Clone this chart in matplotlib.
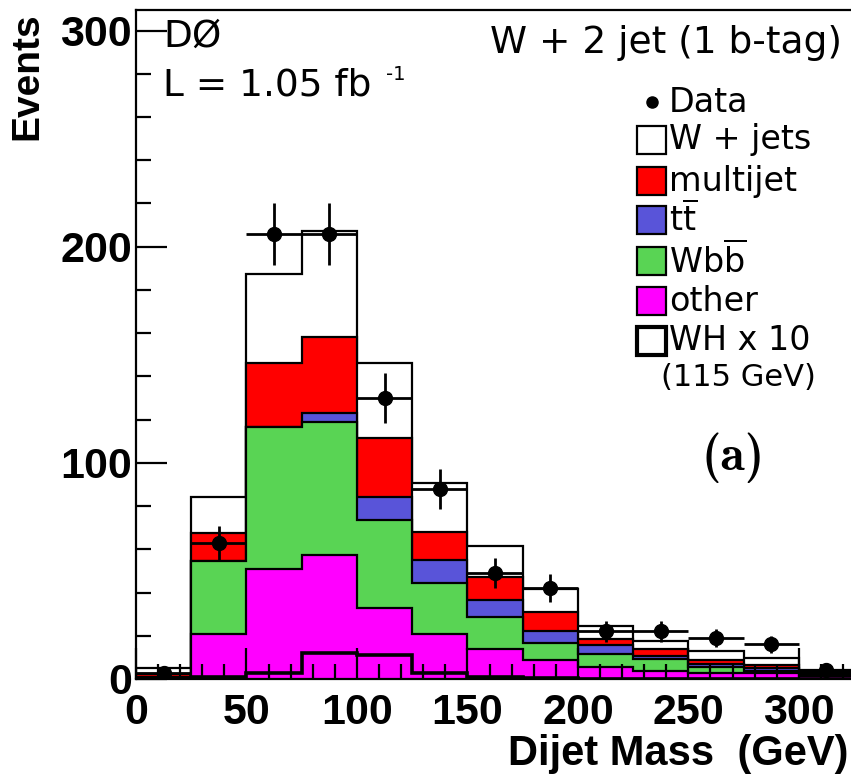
import numpy as np
import matplotlib as mpl
mpl.use('Agg')
import matplotlib.pyplot as plt
from matplotlib.patches import Rectangle
from matplotlib.lines import Line2D

#=========================================================================
# Data, 25 GeV bins from 0 to 325 GeV
#=========================================================================
edges = np.arange(0, 326, 25)
other = [0.3, 21.0, 51.0, 57.4, 32.8, 20.8, 13.9, 8.8, 5.6, 3.7, 2.8, 2.8, 1.2]
wbb = [0.5, 33.6, 65.7, 61.6, 40.8, 23.6, 14.8, 7.9, 6.0, 5.5, 2.8, 0.9, 0.7]
ttbar = [0.0, 0.0, 0.0, 4.0, 10.4, 10.6, 7.9, 5.5, 4.1, 1.4, 1.3, 1.3, 0.7]
multijet = [1.7, 13.0, 29.3, 35.3, 27.6, 13.0, 10.4, 8.8, 2.8, 3.3, 1.9, 1.5, 0.7]
wjets = [2.5, 16.4, 41.5, 49.1, 34.4, 22.8, 14.6, 10.7, 6.0, 3.7, 4.2, 3.2, 0.7]
wh_x10 = [0.4, 1.0, 3.0, 12.2, 11.2, 2.7, 0.8, 0.3, 0.1, 0.0, 0.0, 0.0, 0.0]
data = [3, 63, 206, 206, 130, 88, 49, 42, 22, 22, 19, 16, 4]

#=========================================================================
# Style
#=========================================================================
plt.rc('font', family='Liberation Sans')
plt.rc('mathtext', fontset='dejavusans')
col_red = '#FF0000'
col_blue = '#5954D9'
col_green = '#59D454'
col_mag = '#FF00FF'
txtfont = 'DejaVu Sans'

W, H = 851, 777


def fx(x):
    return x / W


def fy(y):
    return 1 - y / H


fig = plt.figure(figsize=(W / 100, H / 100), dpi=100)
ax = fig.add_axes([fx(136), fy(679), 1 - fx(136), fy(10) - fy(679)])

centers = 0.5 * (edges[:-1] + edges[1:])
c1 = np.array(other)
c2 = c1 + np.array(wbb)
c3 = c2 + np.array(ttbar)
c4 = c3 + np.array(multijet)
c5 = c4 + np.array(wjets)

for top, col in [(c5, 'white'), (c4, col_red), (c3, col_blue),
                 (c2, col_green), (c1, col_mag)]:
    ax.stairs(top, edges, baseline=0, fill=True, color=col, lw=0)
    ax.stairs(top, edges, baseline=0, fill=False, color='black', lw=1.6)

ax.stairs(wh_x10, edges, baseline=0, fill=False, color='black', lw=2.6)

data = np.array(data, dtype=float)
ax.errorbar(centers, data, xerr=12.5, yerr=np.sqrt(data), fmt='o',
            color='black', ms=10, elinewidth=2.0, capsize=0, zorder=5)

ax.set_xlim(0, 323.6)
ax.set_ylim(0, 309.5)
ax.set_xticks([0, 50, 100, 150, 200, 250, 300])
ax.set_xticks(np.arange(0, 321, 10), minor=True)
ax.set_yticks([0, 100, 200, 300])
ax.set_yticks(np.arange(0, 310, 20), minor=True)
ax.tick_params(which='both', direction='in', top=False, right=False,
               width=1.6, labelsize=31)
ax.tick_params(which='major', length=22)
ax.tick_params(which='minor', length=11)
ax.tick_params(axis='x', pad=10)
ax.tick_params(axis='y', pad=3)
for lab in ax.get_xticklabels() + ax.get_yticklabels():
    lab.set_fontweight('bold')
ax.spines['right'].set_visible(False)
for s in ['left', 'bottom', 'top']:
    ax.spines[s].set_linewidth(1.6)

#=========================================================================
# Labels and annotations
#=========================================================================
fig.text(fx(27), fy(12), 'Events', rotation=90, ha='center', va='top',
         fontsize=28, fontweight='bold')
fig.text(fx(848), fy(765), 'Dijet Mass  (GeV)', ha='right', va='baseline',
         fontsize=30, fontweight='bold')
fig.text(fx(163), fy(47), 'DØ', ha='left', va='baseline', fontsize=27,
         family=txtfont)
fig.text(fx(163), fy(95), 'L = 1.05 fb', ha='left', va='baseline',
         fontsize=27, family=txtfont)
fig.text(fx(386), fy(80), '-1', ha='left', va='baseline', fontsize=14,
         family=txtfont)
fig.text(fx(842), fy(53), 'W + 2 jet (1 b-tag)', ha='right', va='baseline',
         fontsize=27, family=txtfont)
fig.text(fx(733), fy(458), '(a)', ha='center', va='center', fontsize=36,
         family='cmb10')

# legend, drawn by hand
entries = [('W + jets', 'white', 1.6), ('multijet', col_red, 1.6),
           (r'$\mathrm{t\overline{t}}$', col_blue, 1.6),
           (r'$\mathrm{Wb\overline{b}}$', col_green, 1.6),
           ('other', col_mag, 1.6), ('WH x 10', 'white', 3.0)]
fig.add_artist(Line2D([fx(652)], [fy(102)], marker='o', ms=8, color='black'))
fig.text(fx(669), fy(103), 'Data', ha='left', va='center', fontsize=24,
         family=txtfont)
row_y = [140, 181, 220, 261, 301, 341]
for (lab, col, lw), yy in zip(entries, row_y):
    fig.add_artist(Rectangle((fx(637), fy(yy + 14)), fx(29), 28 / H,
                             facecolor=col, edgecolor='black', lw=lw))
    fig.text(fx(669), fy(yy), lab, ha='left', va='center', fontsize=24,
             family=txtfont)
fig.text(fx(661), fy(378), '(115 GeV)', ha='left', va='center', fontsize=22,
         family=txtfont)

fig.savefig('out.png', dpi=100)
